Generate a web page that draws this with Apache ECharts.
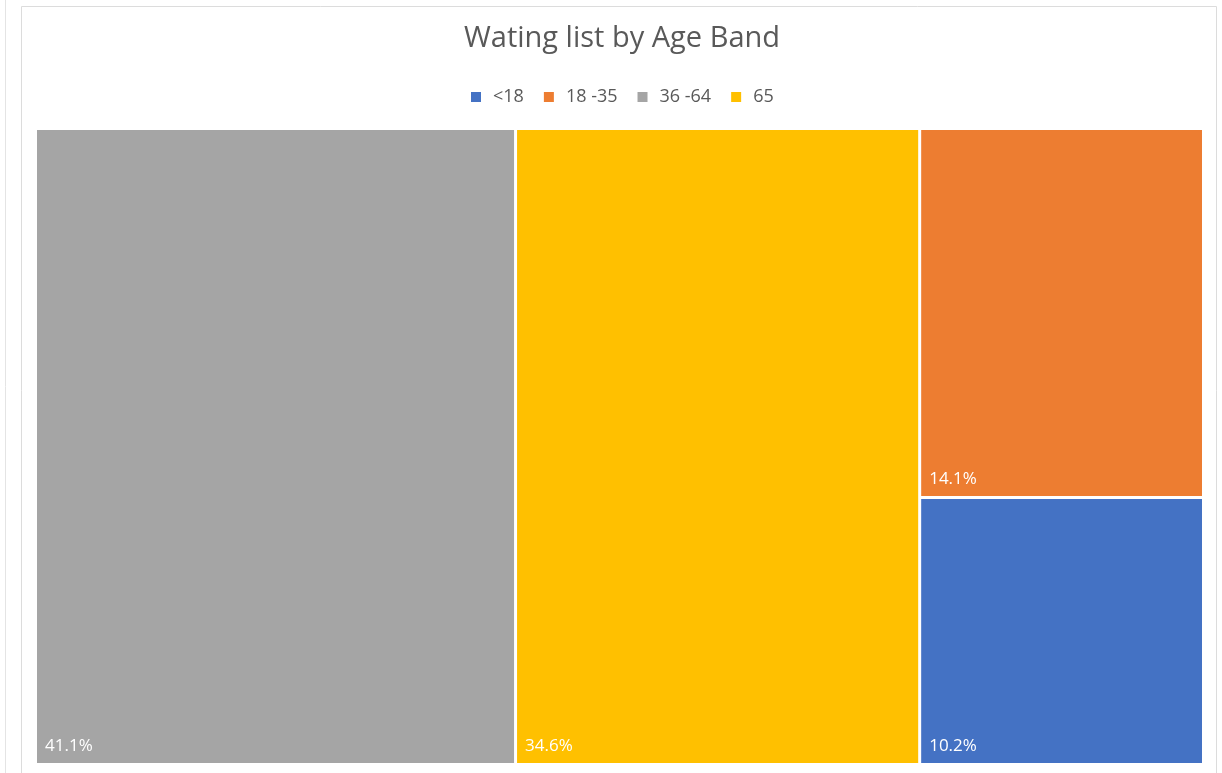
<!DOCTYPE html>
<html>
<head>
<meta charset="utf-8">
<script src="https://cdn.jsdelivr.net/npm/echarts@6/dist/echarts.min.js"></script>
<style>
html,body{margin:0;padding:0;background:#fff;}
#chart{width:1222px;height:773px;}
</style>
</head>
<body>
<div id="chart"></div>
<script>
const categories = ['<18', '18 -35', '36 -64', '65'];
const values = [10.2, 14.1, 41.1, 34.6];
const colors = ['#4472C4', '#ED7D31', '#A5A5A5', '#FFC000'];

const chart = echarts.init(document.getElementById('chart'));
const treeData = categories.map((c, i) => ({
  name: c, value: values[i], itemStyle: { color: colors[i] }
}));
const legendSeries = categories.map((c, i) => ({
  type: 'graph', name: c, data: [], itemStyle: { color: colors[i] }, silent: true
}));

chart.setOption({
  animation: false,
  backgroundColor: '#fff',
  title: {
    text: 'Wating list by Age Band',
    left: 459, top: 19,
    textStyle: { fontFamily: 'Open Sans', fontSize: 29, fontWeight: 'normal', color: '#595959' }
  },
  legend: {
    data: categories,
    top: 83, left: 466,
    icon: 'rect', itemWidth: 10, itemHeight: 10, itemGap: 20,
    textStyle: { fontFamily: 'Open Sans', fontSize: 18, color: '#595959', padding: [0, 0, 0, 7] }
  },
  graphic: [
    { type: 'rect', shape: { x: 21.5, y: 6.5, width: 1195, height: 800 }, style: { fill: 'none', stroke: '#dcdcdc', lineWidth: 1 }, silent: true },
    { type: 'line', shape: { x1: 5.5, y1: 0, x2: 5.5, y2: 773 }, style: { stroke: '#e4e4e4', lineWidth: 1 }, silent: true }
  ],
  series: [
    {
      type: 'treemap',
      left: 37, top: 130, right: 20, bottom: 10,
      roam: false, nodeClick: false,
      breadcrumb: { show: false },
      squareRatio: 1,
      sort: 'desc',
      label: {
        show: true,
        position: 'insideBottomLeft',
        distance: 3,
        fontFamily: 'Open Sans', fontSize: 17, color: '#fff',
        formatter: p => p.value.toFixed(1) + '%'
      },
      upperLabel: { show: false },
      levels: [
        { itemStyle: { gapWidth: 3, borderWidth: 0, borderColor: '#fff' } },
        { itemStyle: { borderWidth: 0 } }
      ],
      data: treeData
    }
  ].concat(legendSeries)
});
</script>
</body>
</html>
